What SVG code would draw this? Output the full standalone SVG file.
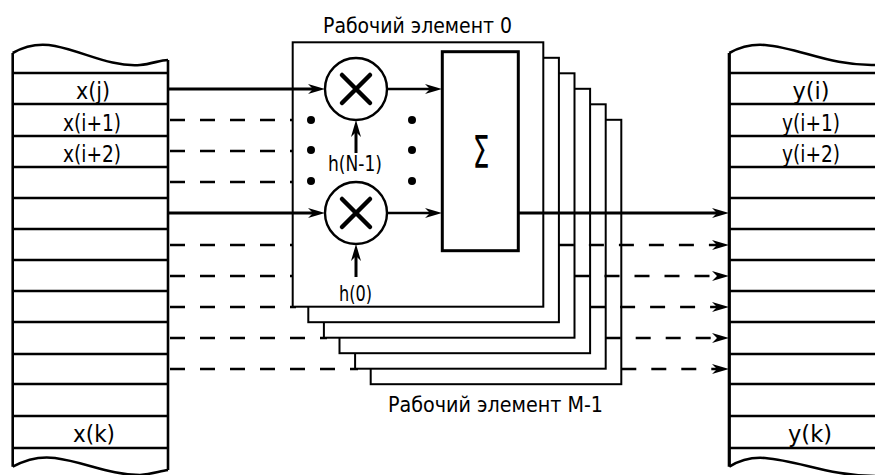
<svg xmlns="http://www.w3.org/2000/svg" width="875" height="475" viewBox="0 0 875 475">
<style>
  .blk{fill:none;stroke:#000;stroke-width:2.6}
  .row{stroke:#000;stroke-width:2.6}
  .pe{fill:#fff;stroke:#000;stroke-width:2}
  .sol{stroke:#000;stroke-width:3;fill:none}
  .dsh{stroke:#000;stroke-width:2.6;fill:none;stroke-dasharray:15 15}
  .thin{stroke:#000;stroke-width:2.4;fill:none}
  .lbl{font-family:"DejaVu Sans Condensed","DejaVu Sans","Liberation Sans",sans-serif;font-size:23px;fill:#000;text-anchor:middle}
  .ttl{font-family:"DejaVu Sans Condensed","DejaVu Sans","Liberation Sans",sans-serif;font-size:22px;fill:#000}
</style>
<defs>
  <marker id="arr" viewBox="-8 -6 20 12" refX="0" refY="0" markerWidth="20" markerHeight="12" markerUnits="userSpaceOnUse" orient="auto">
    <path d="M11,0 L-6,-5 L-1,0 L-6,5 Z" fill="#000"/>
  </marker>
</defs>

<!-- Left memory block -->
<g id="mem-x">
  <path class="blk" d="M12.7,53 C25,46 40,43 55,46 C85,52 110,67 140,65 C152,64 160,60 168,60"/>
  <path class="blk" d="M12.7,466.7 C25,460 40,456 55,458 C85,462 110,475 140,475 C152,474 160,471 168,470"/>
  <line class="blk" x1="12.7" y1="53" x2="12.7" y2="466.7"/>
  <line class="blk" x1="168" y1="60" x2="168" y2="470"/>
  <g class="row">
    <line x1="12.7" y1="73" x2="168" y2="73"/>
    <line x1="12.7" y1="104" x2="168" y2="104"/>
    <line x1="12.7" y1="136" x2="168" y2="136"/>
    <line x1="12.7" y1="167" x2="168" y2="167"/>
    <line x1="12.7" y1="198" x2="168" y2="198"/>
    <line x1="12.7" y1="229" x2="168" y2="229"/>
    <line x1="12.7" y1="260" x2="168" y2="260"/>
    <line x1="12.7" y1="291" x2="168" y2="291"/>
    <line x1="12.7" y1="322" x2="168" y2="322"/>
    <line x1="12.7" y1="354" x2="168" y2="354"/>
    <line x1="12.7" y1="384" x2="168" y2="384"/>
    <line x1="12.7" y1="416" x2="168" y2="416"/>
    <line x1="12.7" y1="448" x2="168" y2="448"/>
  </g>
  <text class="lbl" x="93" y="99" textLength="34" lengthAdjust="spacingAndGlyphs">x(j)</text>
  <text class="lbl" x="92" y="131" textLength="58" lengthAdjust="spacingAndGlyphs">x(i+1)</text>
  <text class="lbl" x="92" y="162" textLength="58" lengthAdjust="spacingAndGlyphs">x(i+2)</text>
  <text class="lbl" x="94" y="442" textLength="42" lengthAdjust="spacingAndGlyphs">x(k)</text>
</g>

<!-- Right memory block -->
<g id="mem-y">
  <path class="blk" d="M729.3,53 C740,47 752,44 765,45 C800,48 830,66 875,65"/>
  <path class="blk" d="M729.3,466.7 C740,460 752,457 765,458 C800,461 830,476 875,476"/>
  <line x1="729.3" y1="53" x2="729.3" y2="466.7" stroke="#000" stroke-width="3.2"/>
  <g class="row">
    <line x1="729" y1="73" x2="875" y2="73"/>
    <line x1="729" y1="104" x2="875" y2="104"/>
    <line x1="729" y1="136" x2="875" y2="136"/>
    <line x1="729" y1="167" x2="875" y2="167"/>
    <line x1="729" y1="198" x2="875" y2="198"/>
    <line x1="729" y1="229" x2="875" y2="229"/>
    <line x1="729" y1="260" x2="875" y2="260"/>
    <line x1="729" y1="291" x2="875" y2="291"/>
    <line x1="729" y1="322" x2="875" y2="322"/>
    <line x1="729" y1="354" x2="875" y2="354"/>
    <line x1="729" y1="384" x2="875" y2="384"/>
    <line x1="729" y1="416" x2="875" y2="416"/>
    <line x1="729" y1="448" x2="875" y2="448"/>
  </g>
  <text class="lbl" x="811" y="99" textLength="37" lengthAdjust="spacingAndGlyphs">y(i)</text>
  <text class="lbl" x="811" y="131" textLength="58" lengthAdjust="spacingAndGlyphs">y(i+1)</text>
  <text class="lbl" x="811" y="162" textLength="58" lengthAdjust="spacingAndGlyphs">y(i+2)</text>
  <text class="lbl" x="810" y="442" textLength="44" lengthAdjust="spacingAndGlyphs">y(k)</text>
</g>

<!-- Input dashed connectors (hidden behind the processing elements) -->
<g id="connectors-in">
  <line class="dsh" x1="170" y1="120" x2="296" y2="120"/>
  <line class="dsh" x1="170" y1="151" x2="296" y2="151"/>
  <line class="dsh" x1="170" y1="182" x2="296" y2="182"/>
  <line class="dsh" x1="170" y1="245" x2="296" y2="245"/>
  <line class="dsh" x1="170" y1="276" x2="296" y2="276"/>
  <line class="dsh" x1="170" y1="307" x2="296" y2="307"/>
  <line class="dsh" x1="170" y1="338" x2="327" y2="338"/>
  <line class="dsh" x1="170" y1="369" x2="358" y2="369"/>
</g>

<!-- Stack of processing elements -->
<g id="pe-M-1"><rect class="pe" x="370.7" y="119.8" width="250.6" height="264.4"/></g>
<g id="pe-4"><rect class="pe" x="355.1" y="104.3" width="250.6" height="264.4"/></g>
<g id="pe-3"><rect class="pe" x="339.5" y="88.8" width="250.6" height="264.4"/></g>
<g id="pe-2"><rect class="pe" x="323.9" y="73.3" width="250.6" height="264.4"/></g>
<g id="pe-1"><rect class="pe" x="308.3" y="57.8" width="250.6" height="264.4"/></g>
<g id="pe-0"><rect class="pe" x="292.7" y="42.3" width="250.6" height="264.4"/></g>

<g id="title-0"><text class="ttl" x="323" y="33" textLength="189" lengthAdjust="spacingAndGlyphs">Рабочий элемент 0</text></g>
<g id="title-M-1"><text class="ttl" x="388" y="412" textLength="215" lengthAdjust="spacingAndGlyphs">Рабочий элемент M-1</text></g>

<!-- Multipliers -->
<g id="mul-top">
  <circle cx="356" cy="89" r="31" fill="#fff" stroke="#000" stroke-width="2.4"/>
  <path d="M342,75 L370,103 M370,75 L342,103" stroke="#000" stroke-width="4.5" stroke-linecap="round"/>
</g>
<g id="mul-bottom">
  <circle cx="356" cy="213" r="31" fill="#fff" stroke="#000" stroke-width="2.4"/>
  <path d="M342,199 L370,227 M370,199 L342,227" stroke="#000" stroke-width="4.5" stroke-linecap="round"/>
</g>

<g id="dots">
  <circle cx="311" cy="120" r="4"/><circle cx="311" cy="150" r="4"/><circle cx="311" cy="181" r="4"/>
  <circle cx="412" cy="120" r="4"/><circle cx="412" cy="150" r="4"/><circle cx="412" cy="181" r="4"/>
</g>

<g id="coef-top"><text class="ttl" x="328" y="171" textLength="54" lengthAdjust="spacingAndGlyphs">h(N-1)</text></g>
<g id="coef-bottom"><text class="ttl" x="339" y="301" textLength="33" lengthAdjust="spacingAndGlyphs">h(0)</text></g>

<!-- Adder -->
<g id="sum">
  <rect x="442.3" y="51.7" width="76" height="199" fill="#fff" stroke="#000" stroke-width="3"/>
  <text x="0" y="0" transform="translate(481,168) scale(0.6,1)" font-family="DejaVu Sans, sans-serif" font-size="44" text-anchor="middle">Σ</text>
</g>

<!-- Connectors on top -->
<g id="connectors">
  <line class="sol" x1="168" y1="89" x2="314" y2="89" marker-end="url(#arr)"/>
  <line class="sol" x1="168" y1="213" x2="314" y2="213" marker-end="url(#arr)"/>
  <line class="thin" x1="387" y1="89" x2="431" y2="89" marker-end="url(#arr)"/>
  <line class="thin" x1="387" y1="213" x2="431" y2="213" marker-end="url(#arr)"/>
  <line class="sol" x1="356" y1="153" x2="356" y2="131" marker-end="url(#arr)"/>
  <line class="sol" x1="356" y1="277" x2="356" y2="255" marker-end="url(#arr)"/>
  <line class="sol" x1="518" y1="213" x2="718" y2="213" marker-end="url(#arr)"/>
  <line class="dsh" x1="558.9" y1="245" x2="718" y2="245" marker-end="url(#arr)"/>
  <line class="dsh" x1="574.5" y1="276" x2="718" y2="276" marker-end="url(#arr)"/>
  <line class="dsh" x1="590.1" y1="307" x2="718" y2="307" marker-end="url(#arr)"/>
  <line class="dsh" x1="605.7" y1="338" x2="718" y2="338" marker-end="url(#arr)"/>
  <line class="dsh" x1="621.3" y1="369" x2="718" y2="369" marker-end="url(#arr)"/>
</g>
</svg>
